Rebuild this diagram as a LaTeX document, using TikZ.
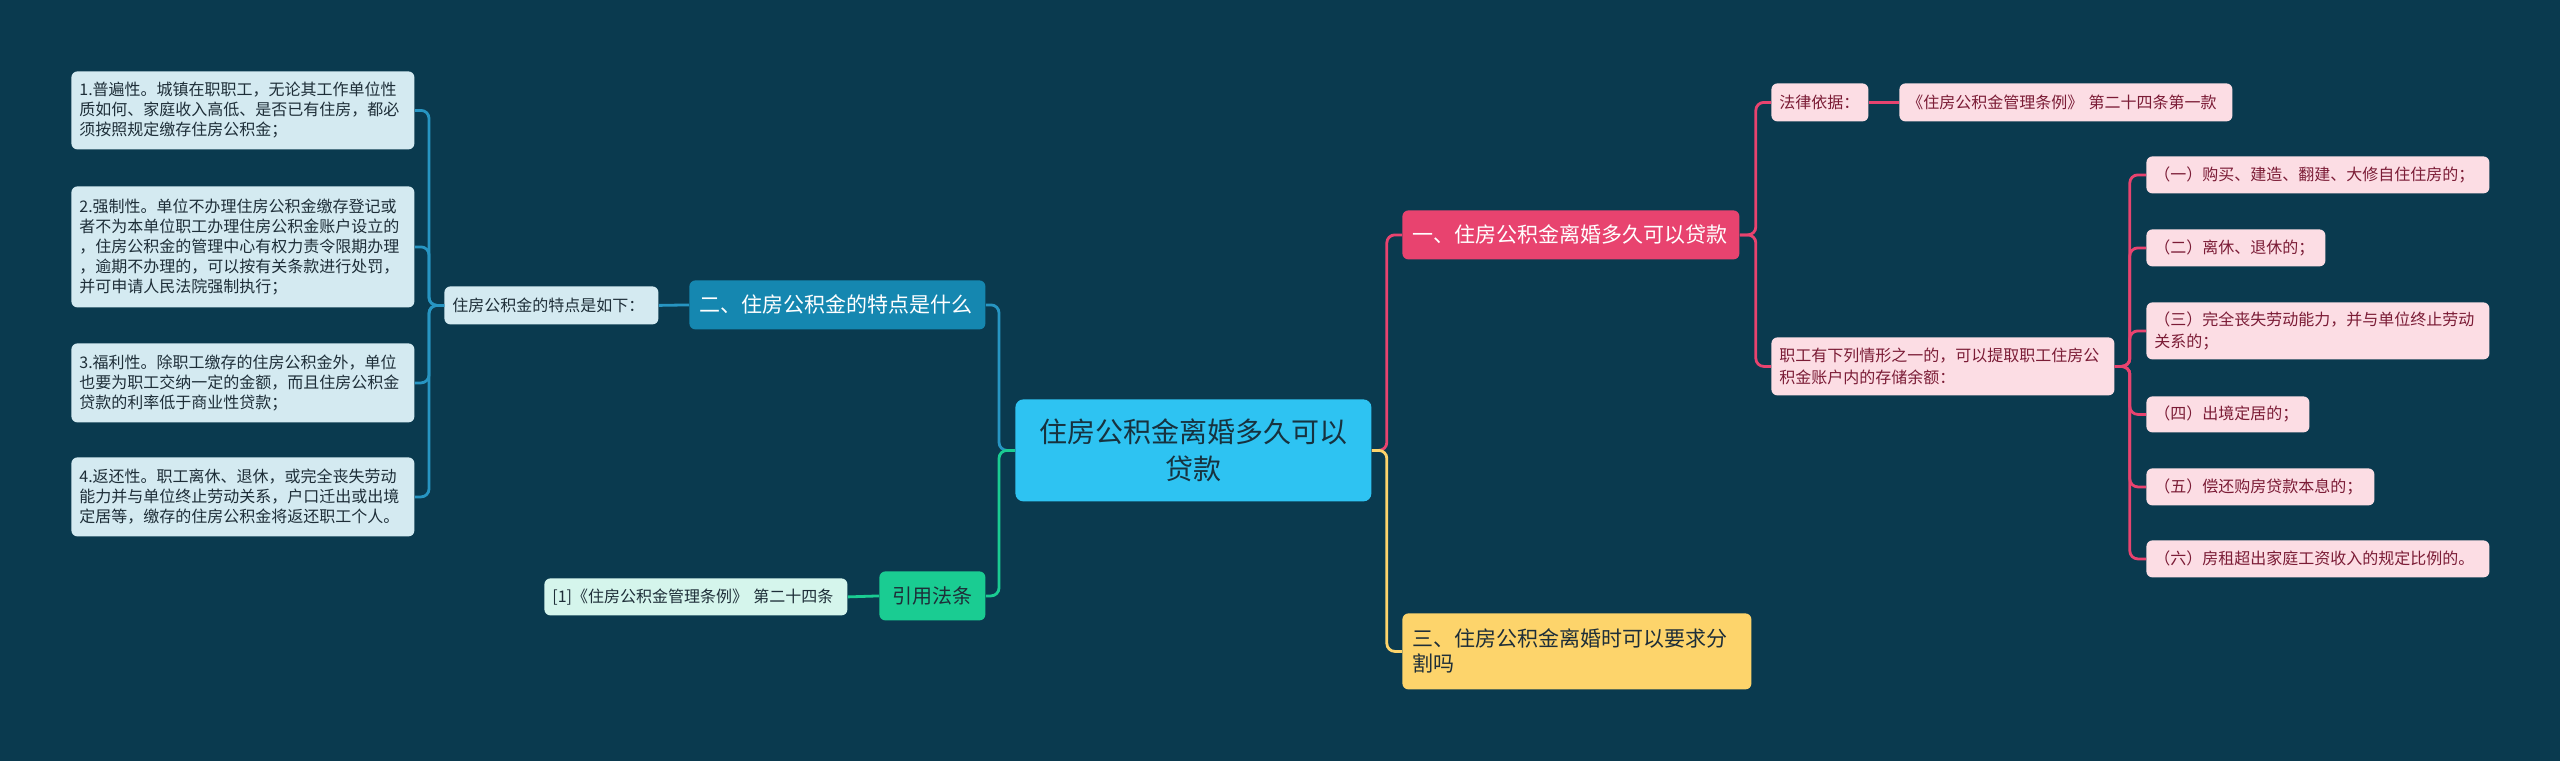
\documentclass[tikz,border=0pt]{standalone}
\usepackage{fontspec}
\setmainfont{Noto Sans CJK SC}
\definecolor{bgteal}{HTML}{0A3A4F}
\definecolor{rootfill}{HTML}{2EC3F2}
\definecolor{roottext}{HTML}{17323F}
\definecolor{pinkmain}{HTML}{E8436F}
\definecolor{pinkleaf}{HTML}{FCDDE4}
\definecolor{pinktext}{HTML}{7B1C36}
\definecolor{yellowmain}{HTML}{FDD46B}
\definecolor{bluemain}{HTML}{1587B0}
\definecolor{blueline}{HTML}{2795C2}
\definecolor{blueleaf}{HTML}{D4EAF1}
\definecolor{greenmain}{HTML}{1ACC92}
\definecolor{greenleaf}{HTML}{D5F5EC}
\definecolor{darktext}{HTML}{1E2E38}
\begin{document}
\begin{tikzpicture}[x=0.5pt,y=0.5pt]
\tikzstyle{every node}+=[inner xsep=4pt, inner ysep=0pt, anchor=north west, rounded corners=3pt, align=left]
\tikzstyle{rootbox}=[fill=rootfill, text=roottext, align=center, rounded corners=4pt, font=\fontsize{14}{18.5}\selectfont]
\tikzstyle{mainbox}=[inner xsep=5pt, font=\fontsize{10.5}{12.5}\selectfont]
\tikzstyle{leafL}=[fill=blueleaf, text=darktext, font=\fontsize{8}{10}\selectfont]
\tikzstyle{leafR}=[fill=pinkleaf, text=pinktext, font=\fontsize{8}{10.8}\selectfont]
\tikzstyle{leafG}=[fill=greenleaf, text=darktext, font=\fontsize{8}{10}\selectfont]
\tikzstyle{link}=[line width=1.4pt, rounded corners=4pt]
\fill[bgteal] (0,0) rectangle (2560,-761);
\useasboundingbox (0,0) rectangle (2560,-761);
% centre
\node[rootbox, minimum width=178pt, minimum height=51pt] (root) at (1015,-399) {住房公积金离婚多久可以\\贷款};
% main branches
\node[mainbox, fill=pinkmain, text=white, text width=158.5pt, minimum height=24.5pt] (loan) at (1402,-210) {一、住房公积金离婚多久可以贷款};
\node[mainbox, fill=yellowmain, text=darktext, text width=164.5pt, minimum height=38pt] (split) at (1402,-613) {三、住房公积金离婚时可以要求分\\割吗};
\node[mainbox, fill=bluemain, text=white, text width=138pt, minimum height=24.5pt] (feat) at (689,-280) {二、住房公积金的特点是什么};
\node[mainbox, fill=greenmain, text=darktext, align=center, minimum width=53pt, minimum height=24.5pt, font=\fontsize{10}{12}\selectfont] (cite) at (879,-571) {引用法条};
% left side
\node[leafL, text width=99pt, minimum height=19pt] (feathead) at (444,-286) {住房公积金的特点是如下：};
\node[leafL, text width=163.5pt, minimum height=39pt] (l1) at (71,-71) {1.普遍性。城镇在职职工，无论其工作单位性\\质如何、家庭收入高低、是否已有住房，都必\\须按照规定缴存住房公积金；};
\node[leafL, text width=163.5pt, minimum height=60.5pt] (l2) at (71,-186) {2.强制性。单位不办理住房公积金缴存登记或\\者不为本单位职工办理住房公积金账户设立的\\，住房公积金的管理中心有权力责令限期办理\\，逾期不办理的，可以按有关条款进行处罚，\\并可申请人民法院强制执行；};
\node[leafL, text width=163.5pt, minimum height=39.5pt] (l3) at (71,-343) {3.福利性。除职工缴存的住房公积金外，单位\\也要为职工交纳一定的金额，而且住房公积金\\贷款的利率低于商业性贷款；};
\node[leafL, text width=163.5pt, minimum height=39.5pt] (l4) at (71,-457) {4.返还性。职工离休、退休，或完全丧失劳动\\能力并与单位终止劳动关系，户口迁出或出境\\定居等，缴存的住房公积金将返还职工个人。};
\node[leafG, text width=143.5pt, minimum height=18.5pt] (ref) at (544,-578) {[1]《住房公积金管理条例》 第二十四条};
% right side
\node[leafR, text width=40.5pt, minimum height=19pt] (law) at (1771,-83) {法律依据：};
\node[leafR, text width=158.5pt, minimum height=19pt] (lawref) at (1899,-83) {《住房公积金管理条例》 第二十四条第一款};
\node[leafR, text width=163.5pt, minimum height=29pt] (cond) at (1771,-337) {职工有下列情形之一的，可以提取职工住房公\\积金账户内的存储余额：};
\node[leafR, text width=163.5pt, minimum height=18.5pt] (c1) at (2146,-156) {（一）购买、建造、翻建、大修自住住房的；};
\node[leafR, text width=81.5pt, minimum height=18.5pt] (c2) at (2146,-229) {（二）离休、退休的；};
\node[leafR, text width=163.5pt, minimum height=28.5pt] (c3) at (2146,-302) {（三）完全丧失劳动能力，并与单位终止劳动\\关系的；};
\node[leafR, text width=73.5pt, minimum height=18pt] (c4) at (2146,-396) {（四）出境定居的；};
\node[leafR, text width=106pt, minimum height=18.5pt] (c5) at (2146,-468) {（五）偿还购房贷款本息的；};
\node[leafR, text width=163.5pt, minimum height=18.5pt] (c6) at (2146,-540) {（六）房租超出家庭工资收入的规定比例的。};
% connectors
\draw[link, pinkmain] (root.east) -- ++(15,0) |- (loan.west);
\draw[link, yellowmain] (root.east) -- ++(15,0) |- (split.west);
\draw[link, blueline] (root.west) -- ++(-16,0) |- (feat.east);
\draw[link, greenmain] (root.west) -- ++(-16,0) |- (cite.east);
\draw[link, pinkmain] (loan.east) -- ++(16,0) |- (law.west);
\draw[link, pinkmain] (loan.east) -- ++(16,0) |- (cond.west);
\draw[link, pinkmain] (law.east) -- (lawref.west);
\foreach \k in {c1,c2,c3,c4,c5,c6}
  \draw[link, pinkmain] (cond.east) -- ++(15,0) |- (\k.west);
\draw[link, blueline] (feat.west) -- (feathead.east);
\foreach \k in {l1,l2,l3,l4}
  \draw[link, blueline] (feathead.west) -- ++(-15,0) |- (\k.east);
\draw[link, greenmain] (cite.west) -- (ref.east);
\end{tikzpicture}
\end{document}
